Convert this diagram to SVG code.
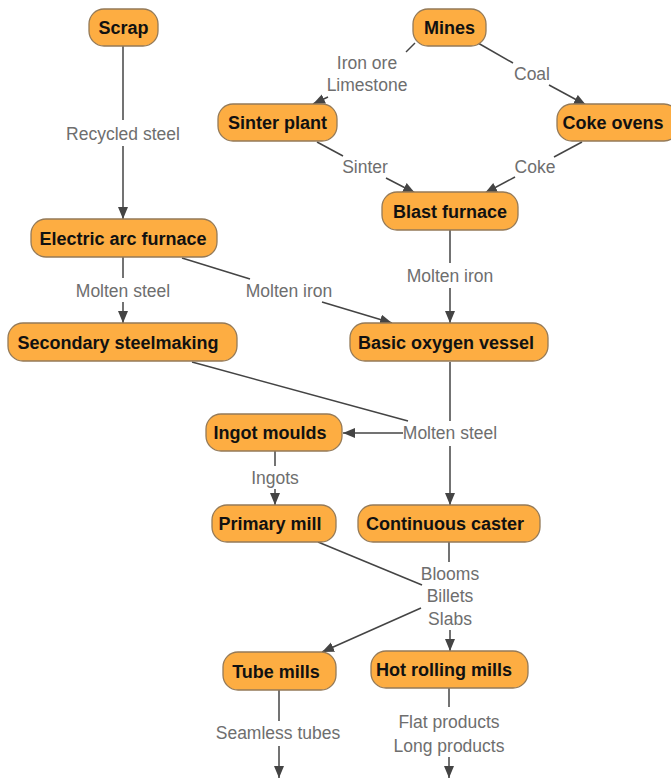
<svg xmlns="http://www.w3.org/2000/svg" width="671" height="781" viewBox="0 0 671 781">
  <defs>
    <marker id="arrow" markerUnits="userSpaceOnUse" markerWidth="13" markerHeight="11" refX="12" refY="5" orient="auto">
      <path d="M0,0 L12,5 L0,10 z" fill="#444"/>
    </marker>
    <style>
      .node rect { fill: #fdad42; stroke: #947a58; stroke-width: 1.3; }
      .node text { font-family: "Liberation Sans", Arial, sans-serif; font-weight: bold; font-size: 18px; fill: #111; text-anchor: middle; }
      .edges line { stroke: #444; stroke-width: 1.5; fill: none; }
      .edges .arr { marker-end: url(#arrow); }
      .lbl { font-family: "Liberation Sans", Arial, sans-serif; font-size: 17.5px; fill: #6e6e6e; text-anchor: middle; }
    </style>
  </defs>
  <rect width="671" height="781" fill="#fff"/>

  <!-- connectors -->
  <g id="connectors" class="edges">
    <!-- Scrap -> Electric arc furnace -->
    <line x1="123" y1="46" x2="123" y2="120"/>
    <line class="arr" x1="123" y1="146" x2="123" y2="219"/>
    <!-- Mines -> Sinter plant -->
    <line x1="415" y1="43" x2="406" y2="52"/>
    <line class="arr" x1="328" y1="97" x2="313" y2="104"/>
    <!-- Mines -> Coke ovens -->
    <line x1="478" y1="43" x2="513" y2="63"/>
    <line class="arr" x1="549" y1="85" x2="586" y2="105"/>
    <!-- Sinter plant -> Blast furnace -->
    <line x1="317" y1="142" x2="343" y2="156"/>
    <line class="arr" x1="386" y1="178" x2="415" y2="193"/>
    <!-- Coke ovens -> Blast furnace -->
    <line x1="582" y1="142" x2="554" y2="157"/>
    <line class="arr" x1="515" y1="177" x2="485" y2="193"/>
    <!-- Blast furnace -> Basic oxygen vessel -->
    <line x1="450" y1="230" x2="450" y2="263"/>
    <line class="arr" x1="450" y1="288" x2="450" y2="323"/>
    <!-- Electric arc furnace -> Basic oxygen vessel -->
    <line x1="182" y1="258" x2="250" y2="279"/>
    <line class="arr" x1="322" y1="302" x2="392" y2="323"/>
    <!-- Electric arc furnace -> Secondary steelmaking -->
    <line x1="123" y1="257" x2="123" y2="278"/>
    <line class="arr" x1="123" y1="302" x2="123" y2="323"/>
    <!-- Secondary steelmaking / Basic oxygen vessel -> molten steel junction -->
    <line x1="192" y1="362" x2="408" y2="421"/>
    <line x1="450" y1="362" x2="450" y2="421"/>
    <line class="arr" x1="403" y1="433" x2="343" y2="433"/>
    <line class="arr" x1="450" y1="446" x2="450" y2="505"/>
    <!-- Ingot moulds -> Primary mill -->
    <line x1="275" y1="451" x2="275" y2="466"/>
    <line class="arr" x1="275" y1="489" x2="275" y2="505"/>
    <!-- Primary mill / Continuous caster -> semi-finished junction -->
    <line x1="318" y1="542" x2="422" y2="585"/>
    <line x1="449" y1="542" x2="449" y2="562"/>
    <line class="arr" x1="421" y1="608" x2="322" y2="652"/>
    <line class="arr" x1="450" y1="630" x2="450" y2="651"/>
    <!-- Tube mills -> out -->
    <line x1="279" y1="690" x2="279" y2="721"/>
    <line class="arr" x1="279" y1="746" x2="279" y2="778"/>
    <!-- Hot rolling mills -> out -->
    <line x1="449" y1="688" x2="449" y2="707"/>
    <line class="arr" x1="449" y1="757" x2="449" y2="778"/>
  </g>

  <!-- connector labels -->
  <g id="labels">
    <text class="lbl" x="123" y="140">Recycled steel</text>
    <text class="lbl" x="367" y="69">Iron ore</text>
    <text class="lbl" x="367" y="91">Limestone</text>
    <text class="lbl" x="532" y="80">Coal</text>
    <text class="lbl" x="365" y="173">Sinter</text>
    <text class="lbl" x="535" y="173">Coke</text>
    <text class="lbl" x="450" y="282">Molten iron</text>
    <text class="lbl" x="123" y="297">Molten steel</text>
    <text class="lbl" x="289" y="297">Molten iron</text>
    <text class="lbl" x="450" y="439">Molten steel</text>
    <text class="lbl" x="275" y="484">Ingots</text>
    <text class="lbl" x="450" y="580">Blooms</text>
    <text class="lbl" x="450" y="602">Billets</text>
    <text class="lbl" x="450" y="625">Slabs</text>
    <text class="lbl" x="278" y="739">Seamless tubes</text>
    <text class="lbl" x="449" y="728">Flat products</text>
    <text class="lbl" x="449" y="752">Long products</text>
  </g>

  <!-- nodes -->
  <g id="scrap" class="node"><rect x="89" y="9" width="69" height="37" rx="15"/><text x="123.5" y="34">Scrap</text></g>
  <g id="mines" class="node"><rect x="413" y="9" width="73" height="37" rx="15"/><text x="449.5" y="34">Mines</text></g>
  <g id="sinter-plant" class="node"><rect x="218" y="104" width="119" height="37" rx="15"/><text x="277.5" y="129">Sinter plant</text></g>
  <g id="coke-ovens" class="node"><rect x="557" y="104" width="122" height="37" rx="15"/><text x="613" y="129">Coke ovens</text></g>
  <g id="blast-furnace" class="node"><rect x="382" y="192" width="136" height="38" rx="15"/><text x="450" y="217.5">Blast furnace</text></g>
  <g id="electric-arc-furnace" class="node"><rect x="31" y="219" width="186" height="38" rx="15"/><text x="123" y="244.5">Electric arc furnace</text></g>
  <g id="secondary-steelmaking" class="node"><rect x="8" y="323" width="229" height="38" rx="15"/><text x="118" y="348.5">Secondary steelmaking</text></g>
  <g id="basic-oxygen-vessel" class="node"><rect x="350" y="323" width="198" height="38" rx="15"/><text x="446" y="348.5">Basic oxygen vessel</text></g>
  <g id="ingot-moulds" class="node"><rect x="206" y="414" width="136" height="37" rx="15"/><text x="270" y="439">Ingot moulds</text></g>
  <g id="primary-mill" class="node"><rect x="212" y="505" width="124" height="37" rx="15"/><text x="270" y="530">Primary mill</text></g>
  <g id="continuous-caster" class="node"><rect x="358" y="505" width="182" height="37" rx="15"/><text x="445" y="530">Continuous caster</text></g>
  <g id="tube-mills" class="node"><rect x="223" y="652" width="113" height="38" rx="15"/><text x="276" y="677.5">Tube mills</text></g>
  <g id="hot-rolling-mills" class="node"><rect x="371" y="651" width="157" height="37" rx="15"/><text x="444" y="676">Hot rolling mills</text></g>
</svg>
